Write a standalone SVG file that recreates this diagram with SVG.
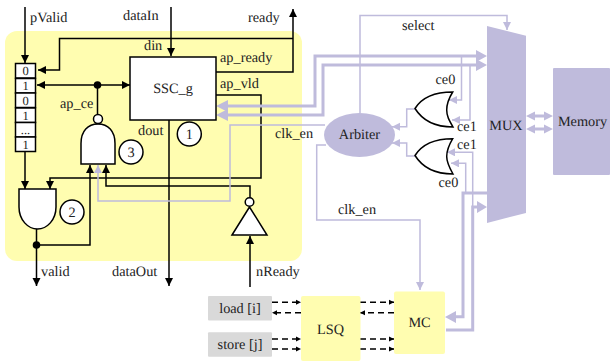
<svg xmlns="http://www.w3.org/2000/svg" width="610" height="362" viewBox="0 0 610 362">
<style>
text{font-family:"Liberation Serif","Times New Roman",serif;font-size:14.3px;fill:#222;text-rendering:geometricPrecision}
.c{text-anchor:middle}
.r{font-size:12.5px}
.k{fill:none;stroke:#000;stroke-width:1.5}
.d{fill:none;stroke:#000;stroke-width:1.5;stroke-dasharray:6 4}
.t{fill:none;stroke:#bfbbdc;stroke-width:1.5}
.h{fill:none;stroke:#bfbbdc;stroke-width:3}
.g{fill:#fff;stroke:#000;stroke-width:1.5}
.y{fill:#fffdb0}
.l{fill:#bfbbdc}
</style>
<defs>
<marker id="a" markerUnits="userSpaceOnUse" markerWidth="10" markerHeight="10" refX="8" refY="4" orient="auto-start-reverse"><path d="M0 0L8 4L0 8Z" fill="#000"/></marker>
<marker id="s" markerUnits="userSpaceOnUse" markerWidth="7" markerHeight="7" refX="5" refY="3" orient="auto-start-reverse"><path d="M0 .5L5 3L0 5.500Z" fill="#000"/></marker>
<marker id="t" markerUnits="userSpaceOnUse" markerWidth="10" markerHeight="10" refX="8" refY="4" orient="auto-start-reverse"><path d="M0 0L8 4L0 8Z" fill="#bfbbdc"/></marker>
</defs>
<rect id="block" x="5" y="31" width="297" height="230" rx="12" class="y"/>
<g id="connectors">
<path class="k" d="M25 7V63" marker-end="url(#a)"/>
<path class="k" d="M171 7V56" marker-end="url(#a)"/>
<path class="k" d="M293 38.500H59.500V70H38" marker-end="url(#a)"/>
<path class="k" d="M216 72H293V9" marker-end="url(#a)"/>
<path class="k" d="M37 85H130" marker-start="url(#a)" marker-end="url(#a)"/>
<path class="k" d="M97.500 85V114"/>
<path class="k" d="M25 152V189" marker-end="url(#a)"/>
<path class="k" d="M216 95H261V178H50V189" marker-end="url(#a)"/>
<path class="k" d="M36.500 229V286" marker-end="url(#a)"/>
<path class="k" d="M36.500 245H90V165" marker-end="url(#a)"/>
<path class="k" d="M250 198V186H106V165" marker-end="url(#a)"/>
<path class="k" d="M169 120V286" marker-end="url(#a)"/>
<path class="k" d="M250 287V236" marker-end="url(#a)"/>
<path class="t" d="M325 125H230V201H98V165" marker-end="url(#t)"/>
<path class="t" d="M360 113V15.500H507V30" marker-end="url(#t)"/>
<path class="h" d="M478 56H315V106H226"/>
<path class="h" d="M478 65H323V115H226"/>
<path d="M476 50L487 56L476 62ZM476 59L487 65L476 71ZM228 100L216 106L228 112ZM228 109L216 115L228 121Z" class="l"/>
<path class="t" d="M461.500 56V100H449" marker-end="url(#t)"/>
<path class="t" d="M470 65V120H452" marker-end="url(#t)"/>
<path class="t" d="M415 109H406.700V126.700H392" marker-end="url(#t)"/>
<path class="t" d="M415 156H406.700V143H392" marker-end="url(#t)"/>
<path class="t" d="M472.700 207V152.300H447" marker-end="url(#t)"/>
<path class="t" d="M465.700 193V163.300H451" marker-end="url(#t)"/>
<path class="h" d="M487 193H463V316.700H456"/>
<path class="h" d="M446 330H472.700V207H478"/>
<path d="M477 201L487 207L477 213ZM456 311L445 317L456 323Z" class="l"/>
<path class="t" d="M326 145H316.700V220H420V290" marker-end="url(#t)"/>
<path class="h" d="M534 116H545M534 129H545"/>
<path class="l" d="M526 116L535 111.500V120.500ZM553 116L544 111.500V120.500ZM526 129L535 124.500V133.500ZM553 129L544 124.500V133.500Z"/>
<path class="d" d="M272 302.300H301" marker-end="url(#s)"/>
<path class="d" d="M301 312.700H272" marker-end="url(#s)"/>
<path class="d" d="M272 339H301" marker-end="url(#s)"/>
<path class="d" d="M272 349H301" marker-end="url(#s)"/>
<path class="d" d="M360 302.300H394" marker-end="url(#s)"/>
<path class="d" d="M394 312.700H360" marker-end="url(#s)"/>
<path class="d" d="M360 339H394" marker-end="url(#s)"/>
<path class="d" d="M360 349H394" marker-end="url(#s)"/>
<circle cx="97.500" cy="85" r="3.800"/>
<circle cx="36.500" cy="245" r="3.800"/>
</g>
<g id="register">
<rect class="g" x="15.500" y="63.500" width="20" height="14.500"/>
<rect class="g" x="15.500" y="78.500" width="20" height="14.500"/>
<rect class="g" x="15.500" y="93" width="20" height="14.500"/>
<rect class="g" x="15.500" y="108" width="20" height="14.500"/>
<rect class="g" x="15.500" y="122.500" width="20" height="14.500"/>
<rect class="g" x="15.500" y="137" width="20" height="14.500"/>
<text class="c r" x="25.500" y="75">0</text><text class="c r" x="25.500" y="90">1</text><text class="c r" x="25.500" y="104.500">0</text><text class="c r" x="25.500" y="119.500">1</text><text class="c r" x="25.500" y="134">...</text><text class="c r" x="25.500" y="148.500">1</text>
</g>
<g id="ssc"><rect class="g" x="130" y="57" width="86" height="63"/><text class="c" x="173" y="93">SSC_g</text></g>
<g id="nand"><path class="g" d="M81 164V143.500C81 131 88 124 98 124S115 131 115 143.500V164Z"/><circle class="g" cx="98" cy="119" r="4.500"/></g>
<g id="and"><path class="g" d="M19 189H56V207C56 220 47 229 37.500 229S19 220 19 207Z"/></g>
<g id="not"><path class="g" d="M232 235L249.500 207L267 235Z"/><circle class="g" cx="249.500" cy="202" r="4.300"/></g>
<g id="badge1"><circle class="g" cx="189.300" cy="134" r="12"/><text class="c" x="189.300" y="139">1</text></g>
<g id="badge2"><circle class="g" cx="72" cy="212" r="12"/><text class="c" x="72" y="217">2</text></g>
<g id="badge3"><circle class="g" cx="131" cy="152" r="12"/><text class="c" x="131" y="157">3</text></g>
<g id="arbiter"><ellipse class="l" cx="359.500" cy="135" rx="35.500" ry="22"/><text class="c" x="359.500" y="139">Arbiter</text></g>
<g id="or0"><path class="g" d="M452.700 92C440 92 424 94 415 108.500C424 123 440 127 453 127C449 120 446.700 116 446.700 110C446.700 104 449 98 452.700 92Z"/></g>
<g id="or1"><path class="g" d="M452.700 138.700C440 138.700 424 141 415 155.500C424 170 440 174 453 174C449 167 446.700 162 446.700 156.500C446.700 150 449 145 452.700 138.700Z"/></g>
<g id="mux"><path class="l" d="M487 26L526 35.700V213L487 223Z"/><text class="c" x="506" y="130">MUX</text></g>
<g id="memory"><rect class="l" x="553" y="68" width="57" height="107" rx="1"/><text class="c" x="582.500" y="126">Memory</text></g>
<g id="load"><rect x="208" y="296" width="64" height="24.500" rx="1" fill="#d9d9d9"/><text class="c" x="240" y="313">load [i]</text></g>
<g id="store"><rect x="208" y="332.300" width="64" height="24.500" rx="1" fill="#d9d9d9"/><text class="c" x="240" y="349">store [j]</text></g>
<g id="lsq"><rect class="y" x="301" y="296" width="59.500" height="65" rx="2"/><text class="c" x="330.500" y="334">LSQ</text></g>
<g id="mc"><rect class="y" x="394" y="291.500" width="51" height="62.500" rx="2"/><text class="c" x="419.500" y="327">MC</text></g>
<g id="labels">
<text x="30" y="22">pValid</text>
<text x="123" y="20">dataIn</text>
<text x="248" y="22">ready</text>
<text x="144" y="50">din</text>
<text x="220" y="62">ap_ready</text>
<text x="220" y="88">ap_vld</text>
<text x="60" y="108">ap_ce</text>
<text x="138" y="135">dout</text>
<text x="275" y="138">clk_en</text>
<text x="41" y="276">valid</text>
<text x="112" y="276">dataOut</text>
<text x="256" y="276">nReady</text>
<text x="402" y="30">select</text>
<text x="435.500" y="84">ce0</text>
<text x="457" y="131">ce1</text>
<text x="457" y="149">ce1</text>
<text x="438.500" y="187">ce0</text>
<text x="338" y="214">clk_en</text>
</g>
</svg>
